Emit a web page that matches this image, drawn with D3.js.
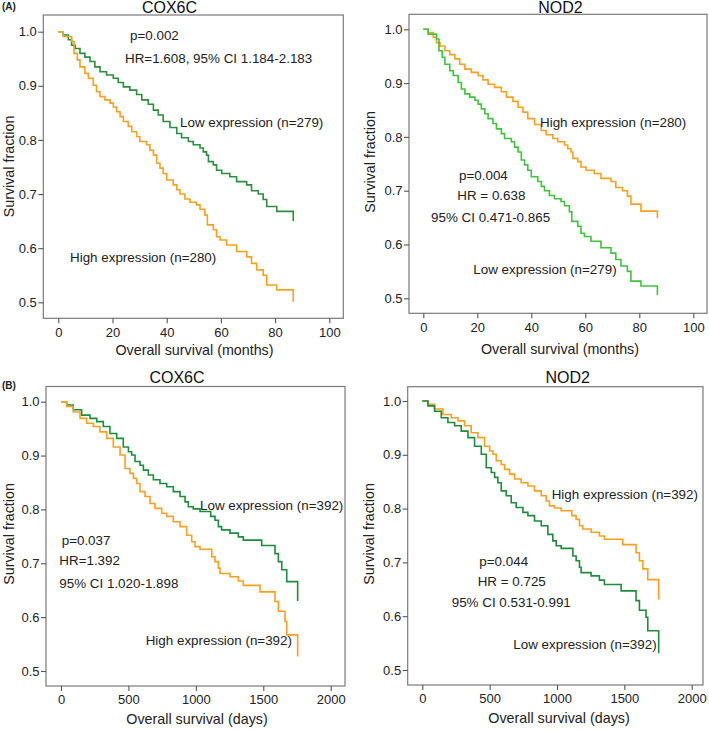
<!DOCTYPE html>
<html><head><meta charset="utf-8">
<script src="https://cdn.jsdelivr.net/npm/d3@7"></script>
<style>
html,body{margin:0;padding:0;background:#fff;}
svg{display:block;font-family:"Liberation Sans",Arial,Helvetica,sans-serif;}
</style></head>
<body>
<svg id="chart" width="709" height="730"></svg>
<script>
// ---------- data ----------
const monthTicks = [0, 20, 40, 60, 80, 100];
const dayTicks = [0, 500, 1000, 1500, 2000];
const survTicks = [0.5, 0.6, 0.7, 0.8, 0.9, 1.0];

// (A) COX6C, months
const coxA_lowT = [0,1.8,3.7,4.9,6.2,8.0,9.8,11.7,13.5,15.4,17.8,20.3,22.1,24.0,26.4,28.9,30.8,33.2,35.1,36.9,38.7,41.2,43.7,45.5,48.0,49.8,52.3,53.5,54.7,55.4,57.2,58.4,60.3,63.3,65.8,69.5,71.3,73.8,75.6,76.9,80.6,86.7];
const coxA_lowS = [1.000,0.994,0.985,0.975,0.969,0.960,0.953,0.945,0.935,0.926,0.920,0.914,0.906,0.898,0.892,0.884,0.874,0.866,0.855,0.846,0.834,0.823,0.812,0.804,0.797,0.791,0.785,0.778,0.772,0.760,0.754,0.744,0.738,0.732,0.723,0.717,0.706,0.700,0.690,0.677,0.668,0.650];
const coxA_highT = [0,1.8,4.9,5.8,7.0,8.0,9.8,11.1,12.9,14.1,15.4,17.2,19.1,20.3,21.5,22.8,24.0,25.8,27.1,28.9,30.1,32.6,33.8,35.1,36.3,37.5,38.7,40.0,42.4,43.7,44.9,46.7,48.6,51.0,52.3,54.1,55.0,57.2,58.4,59.7,62.1,65.8,69.5,71.3,73.2,75.6,76.9,80.6,86.7];
const coxA_highS = [1.000,0.991,0.982,0.960,0.948,0.935,0.923,0.914,0.901,0.889,0.880,0.874,0.868,0.861,0.852,0.843,0.834,0.825,0.815,0.806,0.797,0.791,0.781,0.772,0.757,0.748,0.738,0.726,0.717,0.708,0.700,0.691,0.685,0.680,0.672,0.661,0.643,0.634,0.621,0.615,0.606,0.594,0.584,0.572,0.560,0.550,0.532,0.523,0.501];

// (A) NOD2, months
const nodA_highT = [0,1.8,3.7,4.9,6.2,8.0,9.8,11.7,13.5,15.4,17.8,20.3,22.1,24.0,26.4,28.9,30.8,33.2,35.1,36.9,38.7,41.2,43.7,45.5,48.0,49.8,52.3,53.5,54.7,55.4,57.2,58.4,60.3,63.3,65.8,69.5,71.3,73.8,75.6,76.9,80.6,86.7];
const nodA_highS = [1.000,0.994,0.985,0.975,0.969,0.960,0.953,0.945,0.935,0.926,0.920,0.914,0.906,0.898,0.892,0.884,0.874,0.866,0.855,0.846,0.834,0.823,0.812,0.804,0.797,0.791,0.785,0.778,0.772,0.760,0.754,0.744,0.738,0.732,0.723,0.717,0.706,0.700,0.690,0.675,0.662,0.649];
const nodA_lowT = [0,1.8,4.9,5.8,7.0,8.0,9.8,11.1,12.9,14.1,15.4,17.2,19.1,20.3,21.5,22.8,24.0,25.8,27.1,28.9,30.1,32.6,33.8,35.1,36.3,37.5,38.7,40.0,42.4,43.7,44.9,46.7,48.6,51.0,52.3,54.1,55.0,57.2,58.4,59.7,62.1,65.8,69.5,71.3,73.2,75.6,76.9,80.6,86.7];
const nodA_lowS = [1.000,0.991,0.982,0.960,0.948,0.935,0.923,0.914,0.901,0.889,0.880,0.874,0.868,0.861,0.852,0.843,0.834,0.825,0.815,0.806,0.797,0.791,0.781,0.772,0.757,0.748,0.738,0.726,0.717,0.708,0.700,0.691,0.685,0.680,0.672,0.661,0.643,0.634,0.621,0.615,0.606,0.594,0.584,0.572,0.560,0.550,0.532,0.523,0.506];

// (B) COX6C, days
const coxB_lowT = [0,42,91,153,215,265,314,363,413,462,500,524,549,586,611,648,685,734,784,833,883,920,944,981,1031,1110,1142,1167,1191,1253,1315,1352,1488,1587,1612,1637,1674,1755];
const coxB_lowS = [1.000,0.994,0.985,0.975,0.969,0.963,0.954,0.941,0.932,0.916,0.907,0.901,0.889,0.882,0.873,0.864,0.855,0.848,0.842,0.833,0.824,0.814,0.805,0.801,0.796,0.787,0.780,0.768,0.762,0.756,0.749,0.743,0.733,0.718,0.703,0.688,0.666,0.630];
const coxB_highT = [0,42,91,141,190,240,289,339,388,438,475,512,537,561,586,623,660,697,747,784,833,883,932,969,994,1031,1118,1142,1167,1179,1253,1315,1352,1476,1587,1612,1661,1674,1755];
const coxB_highS = [1.000,0.991,0.981,0.969,0.960,0.954,0.944,0.932,0.916,0.901,0.876,0.867,0.858,0.848,0.833,0.824,0.811,0.802,0.793,0.787,0.777,0.768,0.752,0.740,0.731,0.726,0.712,0.703,0.691,0.681,0.675,0.667,0.659,0.647,0.629,0.611,0.592,0.567,0.527];

// (B) NOD2, days
const nodB_highT = [0,42,91,153,215,265,314,363,413,462,500,524,549,586,611,648,685,734,784,833,883,920,944,981,1031,1110,1142,1167,1191,1253,1315,1352,1488,1587,1612,1637,1674,1755];
const nodB_highS = [1.000,0.994,0.985,0.975,0.969,0.963,0.954,0.941,0.932,0.916,0.907,0.901,0.889,0.882,0.873,0.864,0.855,0.848,0.842,0.833,0.824,0.814,0.805,0.801,0.796,0.787,0.780,0.768,0.762,0.756,0.749,0.743,0.733,0.718,0.703,0.688,0.668,0.631];
const nodB_lowT = [0,42,91,141,190,240,289,339,388,438,475,512,537,561,586,623,660,697,747,784,833,883,932,969,994,1031,1118,1142,1167,1179,1253,1315,1352,1476,1587,1612,1661,1674,1755];
const nodB_lowS = [1.000,0.991,0.981,0.969,0.960,0.954,0.944,0.932,0.916,0.901,0.876,0.867,0.858,0.848,0.833,0.824,0.811,0.802,0.793,0.787,0.777,0.768,0.752,0.740,0.731,0.726,0.712,0.703,0.691,0.681,0.675,0.667,0.659,0.647,0.629,0.611,0.598,0.573,0.531];

const titles = ["COX6C", "NOD2", "COX6C", "NOD2"];
const notesCoxA = ["p=0.002", "HR=1.608, 95% CI 1.184-2.183", "Low expression (n=279)", "High expression (n=280)"];
const notesNodA = ["High expression (n=280)", "p=0.004", "HR = 0.638", "95% CI 0.471-0.865", "Low expression (n=279)"];
const notesCoxB = ["Low expression (n=392)", "p=0.037", "HR=1.392", "95% CI 1.020-1.898", "High expression (n=392)"];
const notesNodB = ["High expression (n=392)", "p=0.044", "HR = 0.725", "95% CI 0.531-0.991", "Low expression (n=392)"];

// ---------- styles / layout ----------
const ORANGE = "#f9a11f";
const GREEN_DARK = "#2a8f3f";
const GREEN_LIGHT = "#3fc43f";
const GREEN_B = "#1f8c3d";
const FONT_TICK = 13, FONT_LABEL = 14.3, FONT_NOTE = 13.4, FONT_TITLE = 16;

const panels = [
  { title: titles[0], frame: [43.3, 15, 343.3, 318.3], xd: [0, 100], xr: [58.3, 329.3], yr: [302.3, 31.7],
    xTicks: monthTicks, xLabel: "Overall survival (months)", titlePos: [169.5, 12.8], xLabelPos: [194.5, 355], yLabelPos: [13.5, 166.5],
    series: [[coxA_lowT, coxA_lowS, GREEN_DARK], [coxA_highT, coxA_highS, ORANGE]],
    notes: [[notesCoxA[0], 130, 39.5], [notesCoxA[1], 125, 62.5], [notesCoxA[2], 180, 126.5], [notesCoxA[3], 70, 261.5]] },
  { title: titles[1], frame: [409, 14.3, 707, 313.3], xd: [0, 100], xr: [423.3, 693.3], yr: [298.3, 29.3],
    xTicks: monthTicks, xLabel: "Overall survival (months)", titlePos: [560.5, 12.8], xLabelPos: [560, 354], yLabelPos: [375, 162],
    series: [[nodA_highT, nodA_highS, ORANGE], [nodA_lowT, nodA_lowS, GREEN_LIGHT]],
    notes: [[notesNodA[0], 540, 126.5], [notesNodA[1], 459, 179.5], [notesNodA[2], 457.3, 200], [notesNodA[3], 431, 221.5], [notesNodA[4], 473.3, 274]] },
  { title: titles[2], frame: [46, 386.5, 345, 686], xd: [0, 2000], xr: [61, 330.7], yr: [671, 401.7],
    xTicks: dayTicks, xLabel: "Overall survival (days)", titlePos: [177, 383], xLabelPos: [197, 724], yLabelPos: [13.5, 534],
    series: [[coxB_lowT, coxB_lowS, GREEN_B], [coxB_highT, coxB_highS, ORANGE]],
    notes: [[notesCoxB[0], 200, 510], [notesCoxB[1], 61.7, 545], [notesCoxB[2], 59.3, 564.5], [notesCoxB[3], 59.3, 588], [notesCoxB[4], 145.7, 645]] },
  { title: titles[3], frame: [407.7, 386.7, 703, 685], xd: [0, 2000], xr: [422.3, 691.7], yr: [670, 401],
    xTicks: dayTicks, xLabel: "Overall survival (days)", titlePos: [567.7, 383], xLabelPos: [559, 723], yLabelPos: [374, 534],
    series: [[nodB_highT, nodB_highS, ORANGE], [nodB_lowT, nodB_lowS, GREEN_B]],
    notes: [[notesNodB[0], 551.7, 498.5], [notesNodB[1], 479.3, 566], [notesNodB[2], 477.7, 586], [notesNodB[3], 451.7, 606.5], [notesNodB[4], 513.3, 649]] }
];

const svg = d3.select("#chart");

panels.forEach(p => {
  const g = svg.append("g");
  const x = d3.scaleLinear().domain(p.xd).range(p.xr);
  const y = d3.scaleLinear().domain([0.5, 1.0]).range(p.yr);
  const [fl, ft, fr, fb] = p.frame;

  // frame
  g.append("rect").attr("x", fl).attr("y", ft).attr("width", fr - fl).attr("height", fb - ft)
    .attr("fill", "none").attr("stroke", "#7a7a7a").attr("stroke-width", 1.2);

  // y axis
  const ya = g.append("g").attr("transform", `translate(${fl},0)`)
    .call(d3.axisLeft(y).tickValues(survTicks).tickFormat(d3.format(".1f")).tickSize(5).tickSizeOuter(0).tickPadding(1.5));
  ya.select(".domain").remove();
  ya.selectAll("line").attr("stroke", "#555").attr("stroke-width", 1.1);
  ya.selectAll("text").attr("font-size", FONT_TICK).attr("fill", "#222").attr("font-family", null);

  // x axis
  const xa = g.append("g").attr("transform", `translate(0,${fb})`)
    .call(d3.axisBottom(x).tickValues(p.xTicks).tickFormat(d3.format("d")).tickSize(5).tickSizeOuter(0).tickPadding(4));
  xa.select(".domain").remove();
  xa.selectAll("line").attr("stroke", "#555").attr("stroke-width", 1.1);
  xa.selectAll("text").attr("font-size", FONT_TICK).attr("fill", "#222").attr("font-family", null);

  // curves
  const line = d3.line().x(d => x(d[0])).y(d => y(d[1])).curve(d3.curveStepAfter);
  p.series.forEach(([T, S, col]) => {
    const pts = T.map((t, i) => [t, S[i]]);
    g.append("path").attr("d", line(pts)).attr("fill", "none").attr("stroke", col).attr("stroke-width", 1.6);
  });

  // title
  g.append("text").attr("x", p.titlePos[0]).attr("y", p.titlePos[1]).attr("text-anchor", "middle")
    .attr("font-size", FONT_TITLE).attr("fill", "#111").text(p.title);
  // x label
  g.append("text").attr("x", p.xLabelPos[0]).attr("y", p.xLabelPos[1]).attr("text-anchor", "middle")
    .attr("font-size", FONT_LABEL).attr("fill", "#222").text(p.xLabel);
  // y label
  g.append("text").attr("transform", `translate(${p.yLabelPos[0]},${p.yLabelPos[1]}) rotate(-90)`)
    .attr("text-anchor", "middle").attr("font-size", FONT_LABEL).attr("fill", "#222").text("Survival fraction");
  // notes
  p.notes.forEach(([txt, nx, ny]) => {
    g.append("text").attr("x", nx).attr("y", ny).attr("font-size", FONT_NOTE).attr("fill", "#222").text(txt);
  });
});

// panel letters
svg.append("text").attr("x", 2).attr("y", 10).attr("font-size", 10).attr("font-weight", "bold").attr("fill", "#222").text("(A)");
svg.append("text").attr("x", 2).attr("y", 389).attr("font-size", 10).attr("font-weight", "bold").attr("fill", "#222").text("(B)");
</script>
</body></html>
